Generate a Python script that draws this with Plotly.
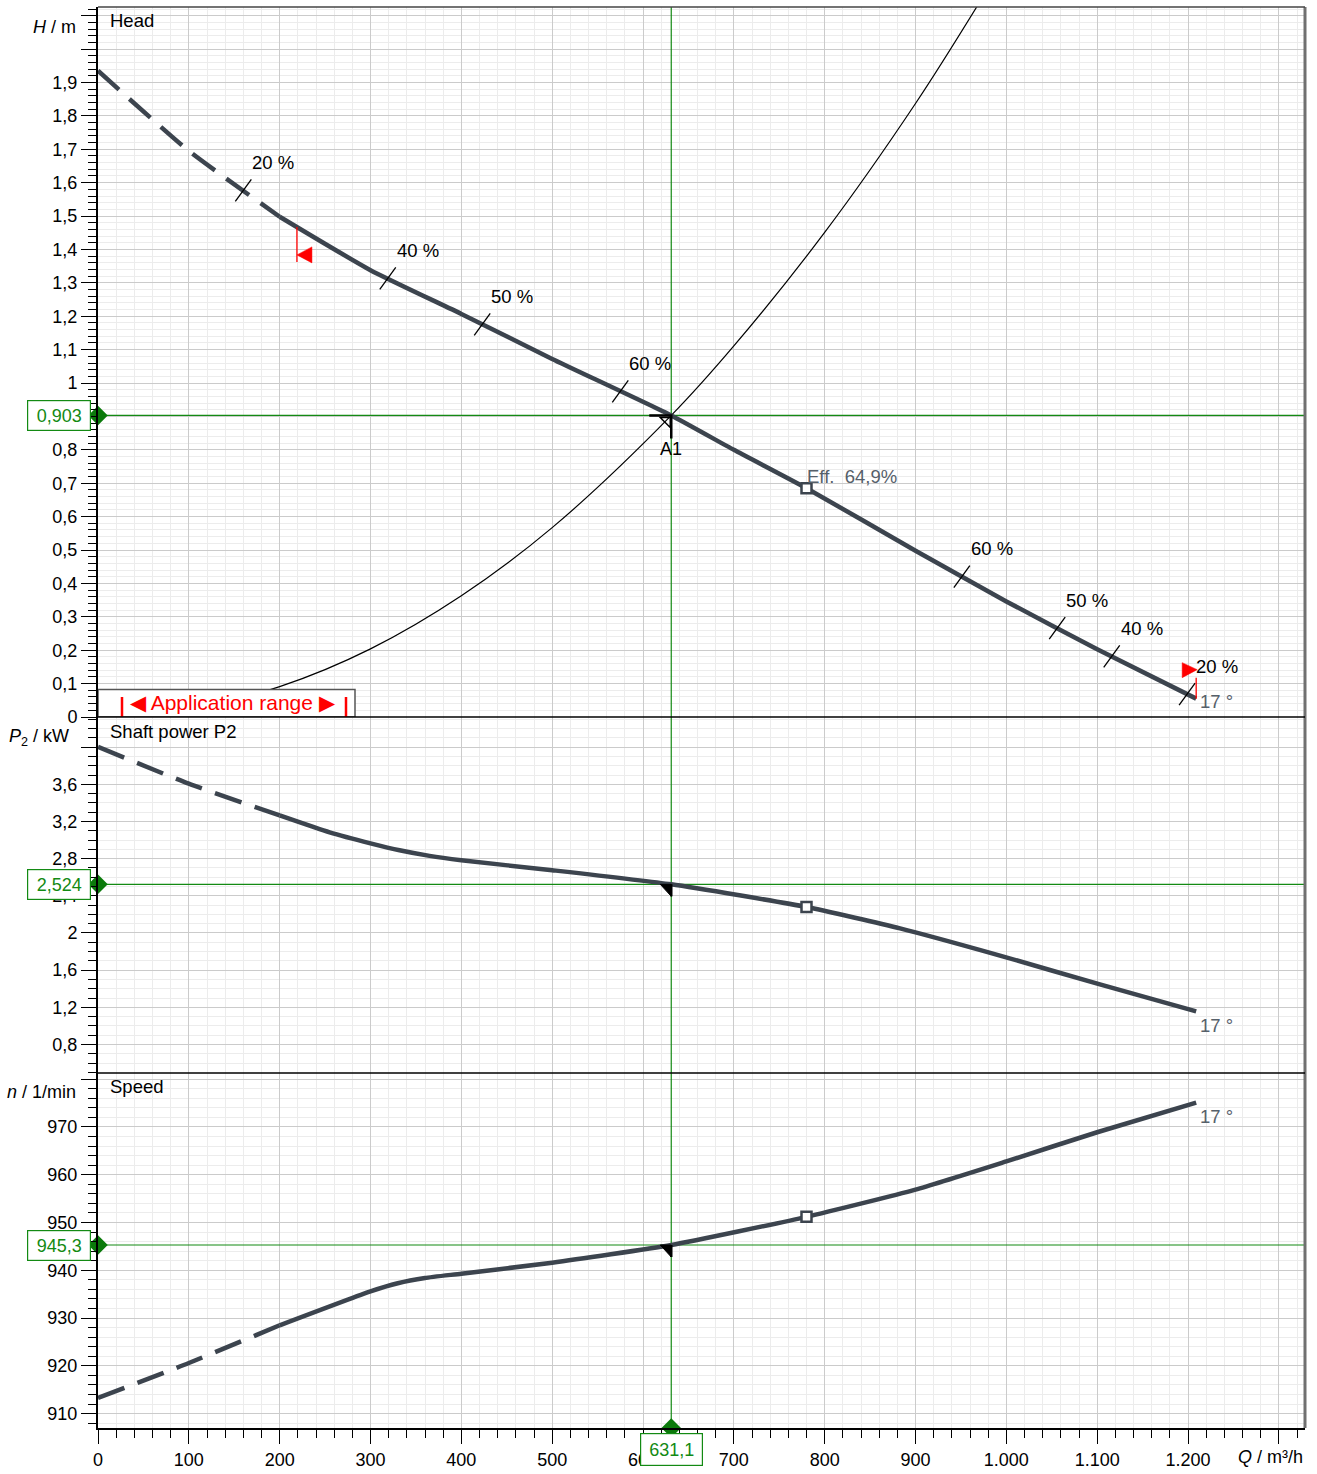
import numpy as np
import plotly.graph_objects as go

# ---------------- data ----------------
Q_head = [0, 100, 200, 300, 400, 500, 631.1, 700, 780, 900, 1000, 1100, 1209]
H_head = [1.935, 1.695, 1.498, 1.338, 1.207, 1.072, 0.903, 0.800, 0.685, 0.498, 0.346, 0.203, 0.055]

Q_pow = [0, 100, 200, 255, 300, 332, 365, 400, 500, 631.1, 780, 883, 993, 1103, 1209]
P_pow = [4.003, 3.607, 3.265, 3.083, 2.965, 2.890, 2.830, 2.783, 2.676, 2.524, 2.28, 2.05, 1.757, 1.446, 1.157]

Q_spd = [0, 100, 200, 300, 330, 360, 400, 500, 631.1, 780, 900, 1000, 1100, 1209]
N_spd = [913.3, 920.6, 928.5, 935.6, 937.3, 938.4, 939.3, 941.6, 945.3, 951.2, 956.9, 962.8, 968.9, 975.1]

Q_sys = [0, 100, 200, 300, 400, 500, 631.1, 700, 800, 900, 975]
H_sys = [0.0, 0.023, 0.091, 0.204, 0.363, 0.567, 0.903, 1.111, 1.451, 1.837, 2.16]

Q_dash_end = 200          # curves are dashed below this flow
Q_op = 631.1              # operating point A1
H_op, P_op, N_op = 0.903, 2.524, 945.3
op_labels = ["0,903", "2,524", "945,3", "631,1"]
Q_bep = 780
bep_label = "Eff.&nbsp; 64,9%"
Q_app = [219, 1209]       # application range
end_label = "17 °"

eff_Q = [160, 319, 423, 575, 951, 1056, 1116, 1199]
eff_txt = ["20 %", "40 %", "50 %", "60 %", "60 %", "50 %", "40 %", "20 %"]

x_ticks = list(range(0, 1400, 100))
x_ticktext = ["0", "100", "200", "300", "400", "500", "600", "700", "800", "900",
              "1.000", "1.100", "1.200", " "]
h_ticks = [round(0.1 * i, 1) for i in range(22)]
h_ticktext = ["0", "0,1", "0,2", "0,3", "0,4", "0,5", "0,6", "0,7", "0,8", "0,9", "1",
              "1,1", "1,2", "1,3", "1,4", "1,5", "1,6", "1,7", "1,8", "1,9", " ", " "]
p_ticks = [0.8, 1.2, 1.6, 2.0, 2.4, 2.8, 3.2, 3.6, 4.0]
p_ticktext = ["0,8", "1,2", "1,6", "2", "2,4", "2,8", "3,2", "3,6", " "]
n_ticks = [910, 920, 930, 940, 950, 960, 970, 980]
n_ticktext = ["910", "920", "930", "940", "950", "960", "970", " "]

X_RANGE = [0, 1328.8]
H_RANGE = [0, 2.126]
P_RANGE = [0.493, 4.325]
N_RANGE = [907.0, 981.3]

# ---------------- styles ----------------
FONT = "Arial, 'Liberation Sans', sans-serif"
CURVE = "#3c444e"
GREEN = "#138a13"
DGREEN = "#0b7a0b"
GRAY_TXT = "#56606a"
RED = "#ff0000"
MAJ_GRID = "#cbcbcb"
MIN_GRID = "#ececec"
TXT = 18.5

fig = go.Figure()


def split(q, v, qs):
    q = np.asarray(q, float); v = np.asarray(v, float)
    return (q[q <= qs], v[q <= qs]), (q[q >= qs], v[q >= qs])


# system curve (thin black)
fig.add_trace(go.Scatter(x=Q_sys, y=H_sys, mode="lines", line=dict(color="black", width=1.2, shape="spline"),
                         xaxis="x", yaxis="y", hoverinfo="skip"))

# green operating lines
for xa, ya, val, rng in [("x", "y", H_op, H_RANGE), ("x2", "y2", P_op, P_RANGE), ("x3", "y3", N_op, N_RANGE)]:
    fig.add_trace(go.Scatter(x=[X_RANGE[0], X_RANGE[1]], y=[val, val], mode="lines",
                             line=dict(color=GREEN, width=1.2), xaxis=xa, yaxis=ya, hoverinfo="skip"))
    fig.add_trace(go.Scatter(x=[Q_op, Q_op], y=rng, mode="lines",
                             line=dict(color=GREEN, width=1.2), xaxis=xa, yaxis=ya, hoverinfo="skip"))

# main curves
for q, v, xa, ya in [(Q_head, H_head, "x", "y"), (Q_pow, P_pow, "x2", "y2"), (Q_spd, N_spd, "x3", "y3")]:
    (qd, vd), (qs, vs) = split(q, v, Q_dash_end)
    fig.add_trace(go.Scatter(x=qd, y=vd, mode="lines",
                             line=dict(color=CURVE, width=4.5, dash="28px,14px", shape="spline", smoothing=0.5),
                             xaxis=xa, yaxis=ya, hoverinfo="skip"))
    fig.add_trace(go.Scatter(x=qs, y=vs, mode="lines",
                             line=dict(color=CURVE, width=4.5, shape="spline", smoothing=0.5),
                             xaxis=xa, yaxis=ya, hoverinfo="skip"))
    fig.add_trace(go.Scatter(x=[Q_bep], y=[float(np.interp(Q_bep, q, v))], mode="markers",
                             marker=dict(symbol="square", size=10, color="white",
                                         line=dict(color=CURVE, width=2.5)),
                             xaxis=xa, yaxis=ya, hoverinfo="skip"))

# green diamonds
for xa, ya, val in [("x", "y", H_op), ("x2", "y2", P_op), ("x3", "y3", N_op)]:
    fig.add_trace(go.Scatter(x=[0], y=[val], mode="markers", cliponaxis=False,
                             marker=dict(symbol="diamond", size=15, color=DGREEN),
                             xaxis=xa, yaxis=ya, hoverinfo="skip"))
fig.add_trace(go.Scatter(x=[Q_op], y=[N_RANGE[0]], mode="markers", cliponaxis=False,
                         marker=dict(symbol="diamond", size=15, color=DGREEN),
                         xaxis="x3", yaxis="y3", hoverinfo="skip"))

shapes = []
annotations = []


def pix(xref, yref, xa, ya, path, **kw):
    d = dict(type="path", xref=xref, yref=yref, xsizemode="pixel", ysizemode="pixel",
             xanchor=xa, yanchor=ya, path=path, layer="above")
    d.update(kw)
    return d


# efficiency ticks + labels on the head curve
for qe, txt in zip(eff_Q, eff_txt):
    he = float(np.interp(qe, Q_head, H_head))
    shapes.append(pix("x", "y", qe, he, "M -8,-11 L 8,11", line=dict(color="black", width=1.3)))
    annotations.append(dict(x=qe, y=he, xref="x", yref="y", text=txt, showarrow=False,
                            xanchor="center", yanchor="middle", xshift=30, yshift=28,
                            font=dict(size=TXT, color="black", family=FONT)))

# application range red markers
h_a0 = float(np.interp(Q_app[0], Q_head, H_head))
h_a1 = float(np.interp(Q_app[1], Q_head, H_head))
shapes.append(pix("x", "y", Q_app[0], h_a0, "M 0,0 L 0,-35", line=dict(color=RED, width=1.3)))
shapes.append(pix("x", "y", Q_app[0], h_a0, "M 0,-28 L 15,-20 L 15,-36 Z",
                  line=dict(color=RED, width=0.5), fillcolor=RED))
shapes.append(pix("x", "y", Q_app[1], h_a1, "M 0,0 L 0,21", line=dict(color=RED, width=1.3)))
shapes.append(pix("x", "y", Q_app[1], h_a1, "M 1,29 L -14,36 L -14,21 Z",
                  line=dict(color=RED, width=0.5), fillcolor=RED))

# application range box
shapes.append(pix("x", "y", 0, 0, "M 0,0 L 0,27.5 L 257,27.5 L 257,0 Z",
                  line=dict(color="#555555", width=1.5), fillcolor="white"))
shapes.append(pix("x", "y", 0, 0, "M 24,0 L 24,20", line=dict(color=RED, width=2.5)))
shapes.append(pix("x", "y", 0, 0, "M 248,0 L 248,20", line=dict(color=RED, width=2.5)))
annotations.append(dict(x=0, y=0, xref="x", yref="y", text="◀ Application range ▶", showarrow=False,
                        xanchor="center", yanchor="middle", xshift=135, yshift=15,
                        font=dict(size=21, color=RED, family=FONT)))

# operating point marks
shapes.append(pix("x", "y", Q_op, H_op, "M -22,0 L 0,0 L 0,-23", line=dict(color="black", width=2.5)))
shapes.append(pix("x", "y", Q_op, H_op, "M -11,-2 L -1,-2 L -1,-12 Z", line=dict(color="black", width=1.5)))
for xa, ya, val in [("x2", "y2", P_op), ("x3", "y3", N_op)]:
    shapes.append(pix(xa, ya, Q_op, val, "M -11,0 L 0,0 L 0,-12 Z", line=dict(color="black", width=1),
                      fillcolor="black"))
    shapes.append(pix(xa, ya, Q_op, val, "M 0,0 L 0,-12", line=dict(color="black", width=2.5)))
annotations.append(dict(x=Q_op, y=H_op, xref="x", yref="y", text="A1", showarrow=False,
                        xanchor="center", yanchor="middle", yshift=-34,
                        font=dict(size=18, color="black", family=FONT)))

# efficiency label
annotations.append(dict(x=Q_bep, y=float(np.interp(Q_bep, Q_head, H_head)), xref="x", yref="y",
                        text=bep_label, showarrow=False, xanchor="left", yanchor="middle",
                        xshift=-2, yshift=12, font=dict(size=TXT, color=GRAY_TXT, family=FONT)))

# "17 °" labels
for q, v, xa, ya, ys in [(Q_head, H_head, "x", "y", -3), (Q_pow, P_pow, "x2", "y2", -14),
                         (Q_spd, N_spd, "x3", "y3", -14)]:
    annotations.append(dict(x=q[-1], y=v[-1], xref=xa, yref=ya, text=end_label, showarrow=False,
                            xanchor="left", yanchor="middle", xshift=2, yshift=ys,
                            font=dict(size=TXT, color=GRAY_TXT, family=FONT)))

# green value boxes
for ya, val, txt in [("y", H_op, op_labels[0]), ("y2", P_op, op_labels[1]), ("y3", N_op, op_labels[2])]:
    annotations.append(dict(x=0, y=val, xref="x", yref=ya, text=txt, showarrow=False,
                            xanchor="right", yanchor="middle", xshift=-7,
                            bgcolor="white", bordercolor=GREEN, borderwidth=1.2, borderpad=3,
                            width=56, height=23, align="center",
                            font=dict(size=18, color=GREEN, family=FONT)))
annotations.append(dict(x=Q_op, y=0, xref="x3", yref="paper", text=op_labels[3], showarrow=False,
                        xanchor="center", yanchor="top", yshift=-5,
                        bgcolor="white", bordercolor=GREEN, borderwidth=1.2, borderpad=3,
                        width=55, height=25, align="center",
                        font=dict(size=18, color=GREEN, family=FONT)))

# panel titles
for yref, txt, ys in [("y domain", "Head", -1), ("y2 domain", "Shaft power P2", -2), ("y3 domain", "Speed", -1)]:
    annotations.append(dict(x=0, y=1, xref="paper", yref=yref, text=txt, showarrow=False,
                            xanchor="left", yanchor="top", xshift=10, yshift=ys,
                            font=dict(size=TXT, color="black", family=FONT)))

# axis titles
for yref, txt, xs, ys in [("y domain", "<i>H</i> / m", -20, -20),
                          ("y2 domain", "<i>P</i><sub>2</sub> / kW", -27, -20),
                          ("y3 domain", "<i>n</i> / 1/min", -20, -19)]:
    annotations.append(dict(x=0, y=1, xref="paper", yref=yref, text=txt, showarrow=False,
                            xanchor="right", yanchor="middle", xshift=xs, yshift=ys,
                            font=dict(size=18, color="black", family=FONT)))
annotations.append(dict(x=1, y=0, xref="paper", yref="paper", text="<i>Q</i> / m³/h", showarrow=False,
                        xanchor="right", yanchor="middle", xshift=0, yshift=-29,
                        font=dict(size=18, color="black", family=FONT)))

H_TOT = 1429.0
y_sep1 = (1433 - 718) / H_TOT
y_sep2 = (1433 - 1076) / H_TOT

# borders and panel separators
shapes.append(dict(type="line", xref="paper", yref="paper", x0=1, x1=1, y0=0, y1=1,
                   line=dict(color="#707070", width=3), layer="above"))
shapes.append(dict(type="line", xref="paper", yref="paper", x0=0, x1=1, y0=1, y1=1,
                   line=dict(color="#444444", width=1.5), layer="above"))
for ys in (y_sep1, y_sep2):
    shapes.append(dict(type="line", xref="paper", yref="paper", x0=0, x1=1, y0=ys, y1=ys,
                       line=dict(color="black", width=1.5), layer="above"))

TICKFONT = dict(size=18, color="black", family=FONT)


def yax(domain, rng, tv, tt, mdt, anchor):
    return dict(domain=domain, range=rng, tickmode="array", tickvals=tv, ticktext=tt,
                ticks="outside", ticklen=15, tickwidth=1.3, tickcolor="black",
                showline=True, linecolor="black", linewidth=2, showgrid=True,
                gridcolor=MAJ_GRID, gridwidth=1, zeroline=False, anchor=anchor,
                tickfont=TICKFONT, fixedrange=True,
                minor=dict(tickmode="linear", tick0=0, dtick=mdt, ticks="outside", ticklen=8,
                           tickcolor="black", tickwidth=1, showgrid=True, gridcolor=MIN_GRID, gridwidth=1))


def xax(anchor, labels, match=None):
    d = dict(range=X_RANGE, domain=[0, 1], anchor=anchor, tickmode="array", tickvals=x_ticks,
             ticktext=x_ticktext, showgrid=True, gridcolor=MAJ_GRID, gridwidth=1, zeroline=False,
             showline=labels, linecolor="black", linewidth=2, fixedrange=True, tickfont=TICKFONT,
             showticklabels=labels, ticks="outside" if labels else "", ticklen=14, tickwidth=1.3,
             tickcolor="black",
             minor=dict(tickmode="linear", tick0=0, dtick=20, ticks="outside" if labels else "",
                        ticklen=8, tickcolor="black", tickwidth=1, showgrid=True,
                        gridcolor=MIN_GRID, gridwidth=1))
    if match:
        d["matches"] = match
    return d


fig.update_layout(
    width=1317, height=1474,
    margin=dict(l=98, r=12, t=4, b=41, pad=0),
    paper_bgcolor="white", plot_bgcolor="white",
    showlegend=False, separators=",.",
    font=dict(family=FONT, size=18, color="black"),
    xaxis=xax("y", False),
    xaxis2=xax("y2", False, "x"),
    xaxis3=xax("y3", True, "x"),
    yaxis=yax([y_sep1, 1], H_RANGE, h_ticks, h_ticktext, 0.02, "x"),
    yaxis2=yax([y_sep2, y_sep1], P_RANGE, p_ticks, p_ticktext, 0.1, "x2"),
    yaxis3=yax([0, y_sep2], N_RANGE, n_ticks, n_ticktext, 2, "x3"),
    shapes=shapes, annotations=annotations,
)

fig.write_html("out.html", config={"displayModeBar": False},
               post_script="document.body.style.margin='0';document.body.style.padding='0';")
